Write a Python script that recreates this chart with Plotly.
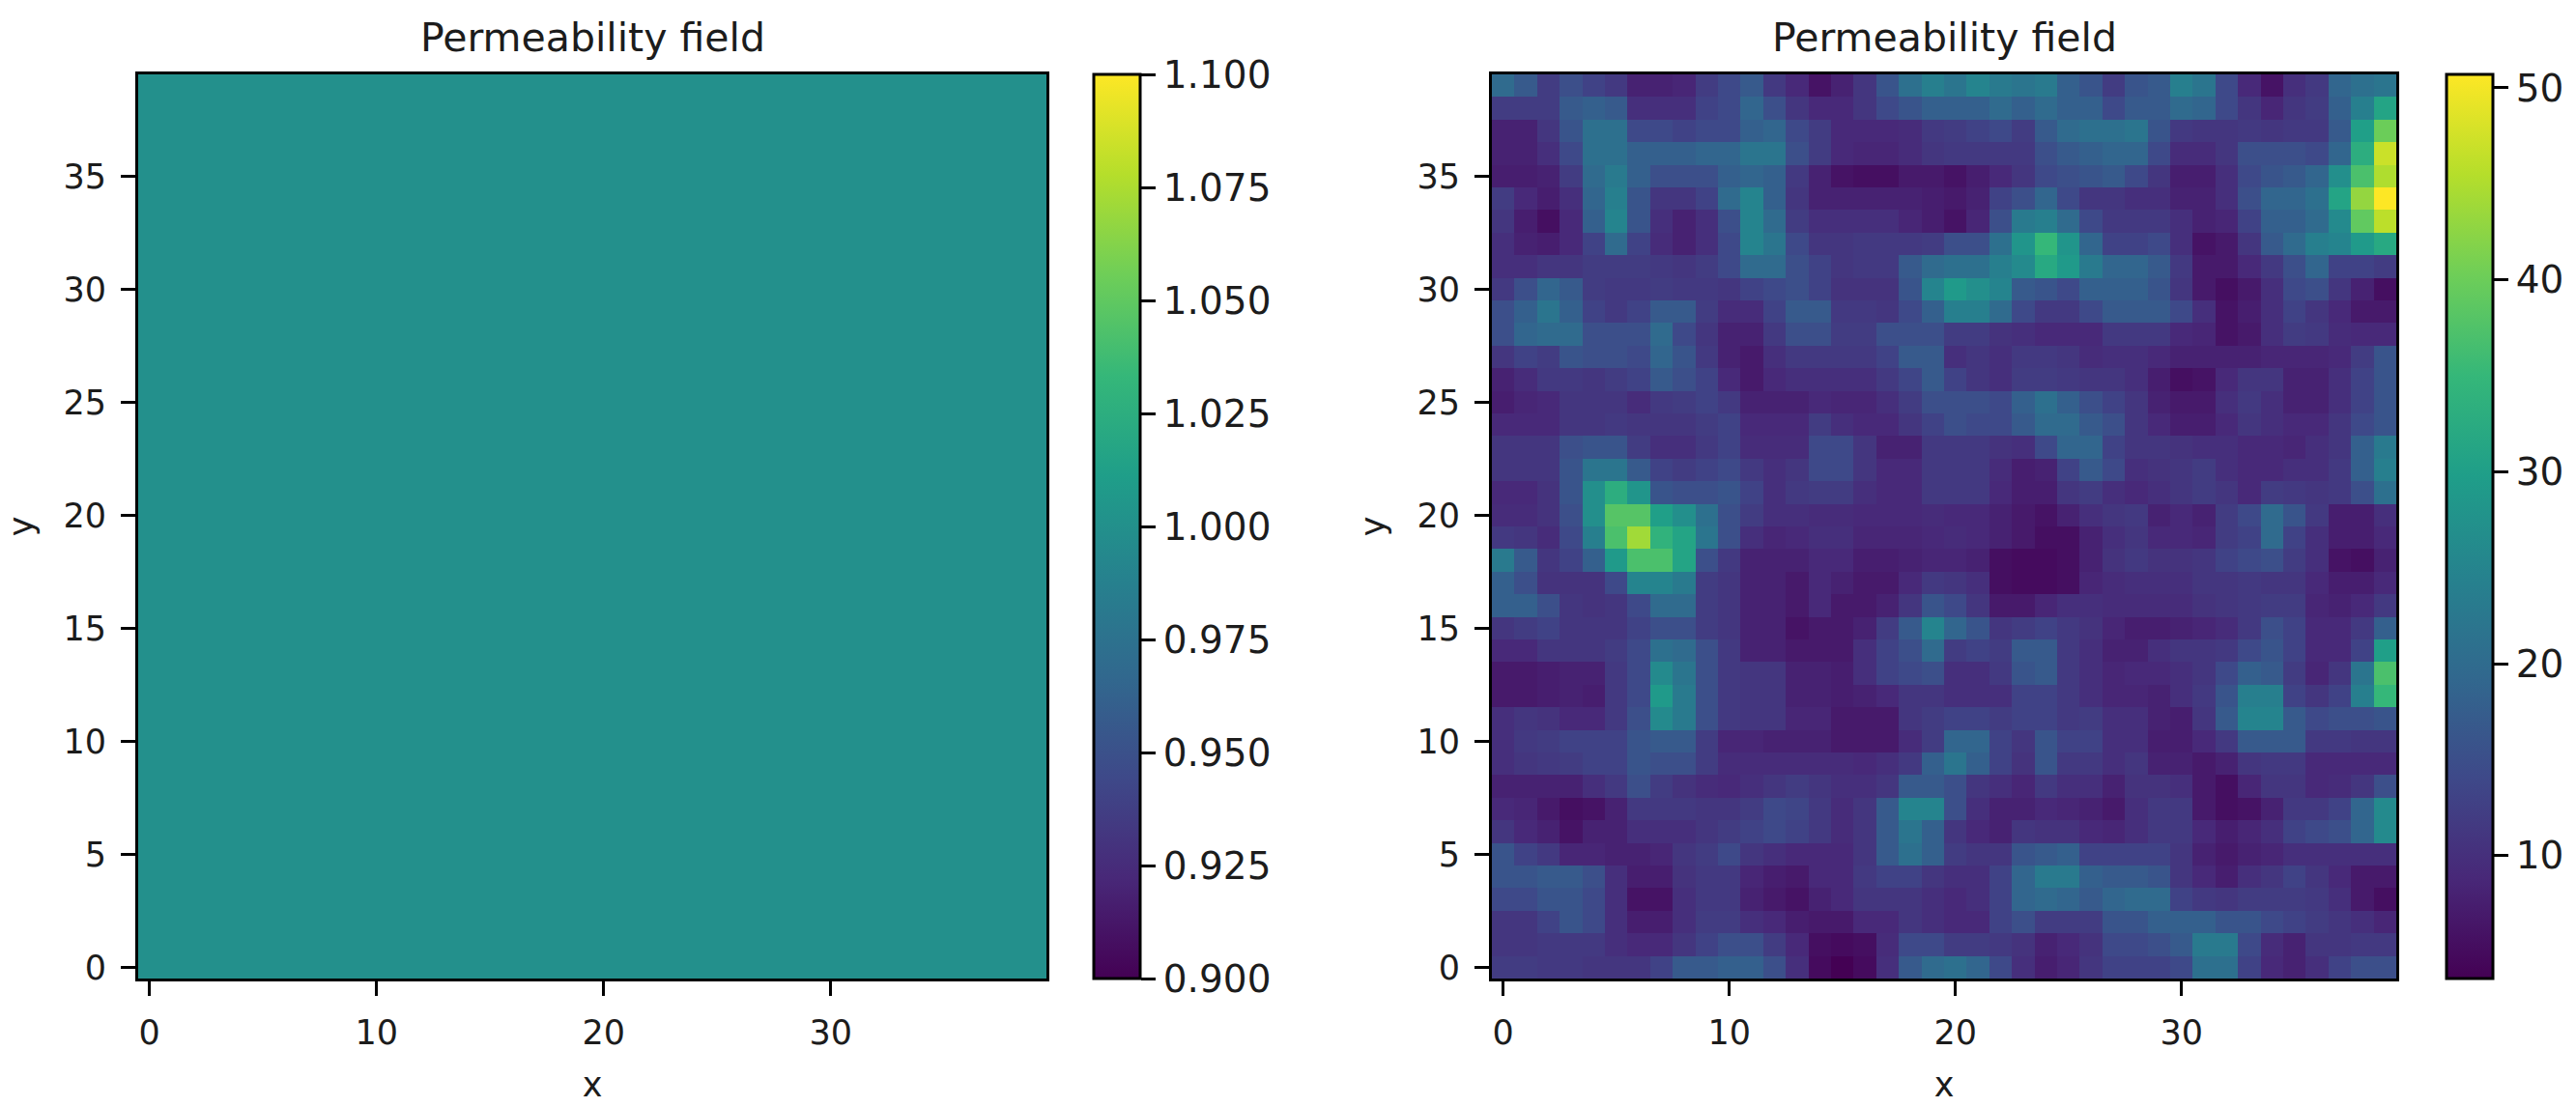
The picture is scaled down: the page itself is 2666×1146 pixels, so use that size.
import plotly.graph_objects as go

GRID = list(range(40))
X_TICKS = [0, 10, 20, 30]
Y_TICKS = [0, 5, 10, 15, 20, 25, 30, 35]
LEFT_CBAR_TICKS = [0.9, 0.925, 0.95, 0.975, 1.0, 1.025, 1.05, 1.075, 1.1]
RIGHT_CBAR_TICKS = [10, 20, 30, 40, 50]
TITLE = "Permeability field"

# uniform field in the left panel
left_field = [[1.0] * 40 for _ in GRID]

# right panel, read cell by cell, listed from y=39 (top) down to y=0
right_field_top_down = [
 [20,17,12,15,13,11.5,8,8,8.5,12,14,17,11.5,9,6,8,11,16,21,24, 22,25,23,22,23,18,16,12,16,17,24,22,14,9,6,10,11.5,19,21,22],
 [12,12,12,17,18,17,10,10,10,13,14,19,15,11,9,9,11,14,16,18, 18,18,20,18,20,18,18,14,17,17,20,19,14,11,8.5,11,12,18,24,31],
 [8,8,11,16,21,21,14,14,13,14,14,18,19,14,12,9,9,9,9.5,11.5, 12,13,14,12,17,20,21,21,22,16,11.5,11,11,11.5,11,11.5,11.5,17,30,40],
 [8,8,10,14,21,21,18,18,18,19,19,22,22,15,12,9,8.5,8.5,9.5,11, 11.5,11.5,11.5,11.5,15,17,18,19,19,14,9.5,9.5,11,15,15,15,14,19,33,47],
 [7.5,7.5,8,12,20,23,18,15,15,15,18,19,18,11.5,8,6,5.5,5.5,7,7, 6,7.5,9,11,14,15,16,17,14,11,7.5,7.5,10,14,16,17,19,27,37,45],
 [12,9,7.5,10,19,24,16,11,11,13,20,25,18,11,8,8,8,8,8,7.5, 7,8,13,15,19,14,11,11,10,10,8,8,10,15,19,19,21,31,43,50.7],
 [11,7.5,5.5,9,18,25,16,10,8,10,15,25,20,12,10,10,10,10,8.5,7.5, 6,8.5,15,23,24,20,14,11.5,11.5,11.5,10,8,8.5,13,18,18,20,26,39,46],
 [10,8,7.5,9,13,20,13,9.5,8,10,14,25,22,14,11,11,11.5,11.5,11.5,12, 15,15,21,28,35,28,19,13,13,14,10,6,7,11,17,20,24,25,29,32],
 [10,10,11,11,12,12,12,11.5,11,12,14,20,20,15,13,11,11.5,11.5,17,20, 21,21,24,26,32,29,23,19,19,17,11.5,7,7,9,11.5,15,19,13,13,12],
 [11.5,15,19,17,12,11.5,11.5,12,11.5,11.5,11,13,14,15,13,10.5,10.5,10.5,16,25, 29,27,25,17,16,14,18,18,18,16,11,7,5.5,7,10,14,15,11,8,5.5],
 [15,18,22,18,13,11.5,13,17,17,12,9.5,9.5,13,17,17,11.5,11.5,11,14,18, 24,24,20,14,11.5,11.5,14,17,17,17,14,10,6,7.5,10,13,11,9,7,7],
 [15,19,20,20,15,15,15,20,14,11,8,8,11.5,15,15,12,12,15,15,15, 12,12,10.5,10,9,9,9,11.5,11.5,11.5,9,8.5,6,7,10,12,11.5,9.5,9,9],
 [11,13,12,16,15,15,14,19,16,11.5,8,7,10,11.5,11.5,11.5,11.5,13,17,17, 10,11,10,11.5,11.5,11,9.5,10,10,9,8,8,8,8,8.5,8.5,8.5,9,12,16],
 [8,9.5,11.5,11.5,11,12,13,17,15,13,9,7,9,10,10,10,10,11.5,13.5,17, 13,11,10,12,12,11.5,11,11,10,7.5,5.5,6,9,11,11,8,8,10,13,16],
 [7.5,8.5,9,11,11,11,9.5,11.5,12,13,11.5,8,8,8,9,8.5,8.5,10,12,15, 15,15,14,18,21,18,15,13,11,8,7,7,10,11.5,10,8,8,10,13,16],
 [9,9,9,11,11,11.5,11,11,11,12,13,9,9,9,12,10,9,9,11,13, 15,14,14,17,20,20,17,15,11,9,7.5,7.5,9,11,10,9,9,11,14,16],
 [11,11,11,15,16,16,12,10,10,11.5,13,9.5,9.5,9.5,14,14,11,8,8,11.5, 11.5,11.5,10.5,10,14,19,19,13,11,11,10.5,10,10,9,9,8.5,10,11,18,23],
 [11,11,11,16,22,22,17,13,12,13,14,11.5,10,11,14,14,11,9,9,11.5, 11.5,11.5,9.5,7.5,8,13,17,14,10,10.5,11,12,10,9,9,10,10,11.5,18,24],
 [9,9,10.5,16,27,33,28,16,15,15,16,13,10,11.5,12,12,10,9,9,11.5, 11.5,11.5,9,7.5,7.5,11,12,10,9,10,11,12,11,9,12,11.5,11,11.5,15,21],
 [9.5,9.5,10.5,15,27,38,38,30,27,21,15,12,10,10,9.5,9.5,9,9,9,9.5, 9,9,8,7,6,8,10,11,11.5,8,9,8,12,14,20,16,11.5,7.5,7.5,10],
 [11.5,11,9.5,14,24,37,44,34,31,22,15,10,8.5,9,10,10,8.5,8.5,8.5,9, 9.5,9,8,7,5.5,5.5,8,10,11,9,9,8.5,12,13,20,13,10,7.5,7.5,9],
 [23,17,11,13,18,29,37,37,31,15,11.5,8,8,8,9,9,7.5,7.5,8,8.5, 8.5,8,5.5,5,5,5.5,8,10.5,11.5,10.5,10.5,11,13,14,15,12,10,6,5.5,8],
 [18,15,10.5,10.5,10.5,14,25,25,23,12,11,8,8,7,9,8,7,7,9,11.5, 11,10,5.5,5,5,5.5,8.5,9.5,10,10,10,11,11,11.5,11,11,9,7.5,7.5,9],
 [18,18,15,11,10.5,11,14,20,20,12,11,8,8,7,9,7,7,8,11,16, 14,11,7,7,8.5,10,10,9.5,9.5,9.5,9.5,10.5,11,11.5,12,12,8.5,8,9,11.5],
 [11,12,13,11,11,11,13,15,15,12,11,8,8,6,7,7,8,12,17,25, 19,16,11,12,13,11.5,10.5,8.5,7.5,7.5,8,8.5,9.5,11.5,15,13,9,9,11.5,18],
 [9,9,11,11,11,12,14,21,20,15,11.5,8,8,7,7,7,10,13,15,20, 12,13,12,17,17,11.5,10,8,8,10,11,11,11.5,14,16,13,9,9,13,30],
 [7,7,7.5,8,8,11.5,14,26,22,15,11.5,11,11,8,8,7.5,10,13,14,15, 10,10,11.5,16,17,11.5,10,8.5,9,9,10,11,14,18,17,12,8.5,11,22,37],
 [7,7,7.5,8,7.5,11.5,14,29,23,15,11.5,11,11,8,8,7.5,8,9,11,11, 10,10,10,13,13,11.5,10,8.5,8.5,8,10,11.5,16,24,24,13,11,13,24,35],
 [10,11,10.5,9,9,11.5,15,26,23,15,11.5,11,11,8.5,8.5,7,7,7,11,12, 13,13,12,13,13,11.5,12,10,10,8,7.5,11,17,25,25,17,14,15,15,16],
 [10,11.5,12,13,13,13,16,17,17,12,8.5,8.5,8,8,8,7,7,7,9.5,12, 19,19,13,11,16,13,13,10,10,7.5,7.5,9,11.5,17,17,17,11.5,11.5,11,11],
 [10,11,11.5,12,13,13,16,15,15,12,9.5,9.5,9.5,9.5,9.5,9.5,9,10,11.5,18, 22,18,13,10.5,16,11.5,11.5,10,11,8,8,7,8,11,11.5,11.5,9,9,9,9],
 [8,8,8,8,10,11.5,15,12,10.5,9.5,9,10,11,12,11,10,10,11,17,17, 15,11,10,8.5,11.5,10,10,8,10.5,10.5,10,7,5.5,8.5,11,11,9,9.5,11,15],
 [9,8.5,7,5.5,6,8,11.5,11.5,11.5,11,11,12,14,13.5,11.5,9.5,11,17,25,25, 15,10,8,8,9,8.5,8,7,10,11.5,11.5,7,5.5,6,8,11.5,11.5,13,19,26],
 [11,9,8,6,8,8,10,10,10,11,12,13,14,13,11.5,9.5,11,17,22,18, 11,9,8,11,10.5,10.5,9,8.5,10,11.5,11.5,9,7.5,8.5,10,13,14,15,19,26],
 [16,13,11.5,8.5,8.5,8,8,8.5,11,12,14,11,10,9,9,9,11,17,21,18, 12,11,11,16,17,18,13,13,13,13,11,8,7,8,8.5,10,10,10,10,10],
 [16,16,17,17,15,10,7.5,7.5,10.5,11.5,11.5,8.5,7.5,7,9,9,11.5,13,13,11, 10,10,13,19,23,23,18,17,17,16,11,9,7.5,10,11,13,11,9,7,7],
 [14,14,16,16,14,10,6,6,10,11.5,11.5,8,7,6,8,9,11,11,11,10, 9,10,13,19,20,19,17,19,20,20,13,11.5,11,12,12,12,11.5,10,7,5.5],
 [11,11,13,16,14,10,7.5,7.5,10,12,12,10,9,7.5,7,7,9,9,11,10, 9,9,13,15,12,12,12,16,16,18,18,18,16,16,14,13,12,11,10,8.5],
 [11,11,11.5,11.5,11.5,10,9,9,11,13,15,15,12,9,5.5,5,5.5,9.5,14,14, 12,12,11.5,10.5,8,9,10.5,14,14,15,17,23,23,14,9.5,8,11,11,11.5,11.5],
 [12,12,11.5,11.5,11,11,11,13,17,17,18,18,15,10,5,3.6,5,10,17,20, 21,19,14,10,7.5,8.5,11,13,13,13,14,21,21,13,9,8,10,13,15,15],
]
assert len(right_field_top_down) == 40 and all(len(r) == 40 for r in right_field_top_down)
right_field = right_field_top_down[::-1]

W, H = 2666, 1146
INK = "#1c1c1c"
TICK_SIZE = 35
CBAR_TICK_SIZE = 39
TITLE_SIZE = 41


def fx(px):
    return px / W


def fy(py):
    return 1 - py / H


TOP, BOTTOM = 77, 1013


def cbar(x_px, ticks, fmt):
    return dict(
        x=fx(x_px), xanchor="left", xpad=0, ypad=0,
        y=fy(BOTTOM), yanchor="bottom", lenmode="fraction", len=(BOTTOM - TOP) / H,
        thickness=48, thicknessmode="pixels",
        outlinewidth=3, outlinecolor="black",
        tickmode="array", tickvals=ticks, tickformat=fmt,
        ticks="outside", ticklen=15, tickwidth=3, tickcolor="black",
        tickfont=dict(size=CBAR_TICK_SIZE, color=INK, family="DejaVu Sans"),
    )


fig = go.Figure()
fig.add_trace(go.Heatmap(
    z=left_field, x=GRID, y=GRID, colorscale="Viridis", zmin=0.9, zmax=1.1,
    xaxis="x", yaxis="y", colorbar=cbar(1132, LEFT_CBAR_TICKS, ".3f"),
))
fig.add_trace(go.Heatmap(
    z=right_field, x=GRID, y=GRID, colorscale="Viridis", zmin=3.6, zmax=50.7,
    xaxis="x2", yaxis="y2", colorbar=cbar(2532, RIGHT_CBAR_TICKS, "d"),
))


def axis(title, ticks, domain, anchor, standoff):
    return dict(
        domain=domain, anchor=anchor, range=[-0.5, 39.5], constrain="domain",
        tickmode="array", tickvals=ticks,
        ticks="outside", ticklen=15, tickwidth=3, tickcolor="black",
        ticklabelstandoff=8,
        showline=True, linewidth=3, linecolor="black", mirror=True,
        showgrid=False, zeroline=False,
        tickfont=dict(size=TICK_SIZE, color=INK, family="DejaVu Sans"),
        title=dict(text=title, standoff=standoff,
                   font=dict(size=TICK_SIZE, color=INK, family="DejaVu Sans")),
    )


y_dom = [fy(BOTTOM), fy(TOP)]
fig.update_layout(
    width=W, height=H,
    margin=dict(l=0, r=0, t=0, b=0, autoexpand=False),
    paper_bgcolor="white", plot_bgcolor="white",
    font=dict(family="DejaVu Sans", color=INK),
    xaxis=axis("x", X_TICKS, [fx(143), fx(1083)], "y", 23),
    yaxis=axis("y", Y_TICKS, y_dom, "x", 21),
    xaxis2=axis("x", X_TICKS, [fx(1544), fx(2480)], "y2", 23),
    yaxis2=axis("y", Y_TICKS, y_dom, "x2", 23),
    annotations=[
        dict(text=TITLE, xref="paper", yref="paper", x=fx(613), y=fy(39), showarrow=False,
             xanchor="center", yanchor="middle",
             font=dict(size=TITLE_SIZE, color=INK, family="DejaVu Sans")),
        dict(text=TITLE, xref="paper", yref="paper", x=fx(2012), y=fy(39), showarrow=False,
             xanchor="center", yanchor="middle",
             font=dict(size=TITLE_SIZE, color=INK, family="DejaVu Sans")),
    ],
)

fig.write_html(
    "out.html",
    config=dict(displayModeBar=False),
    post_script="document.body.style.margin='0';document.body.style.overflow='hidden';",
)
